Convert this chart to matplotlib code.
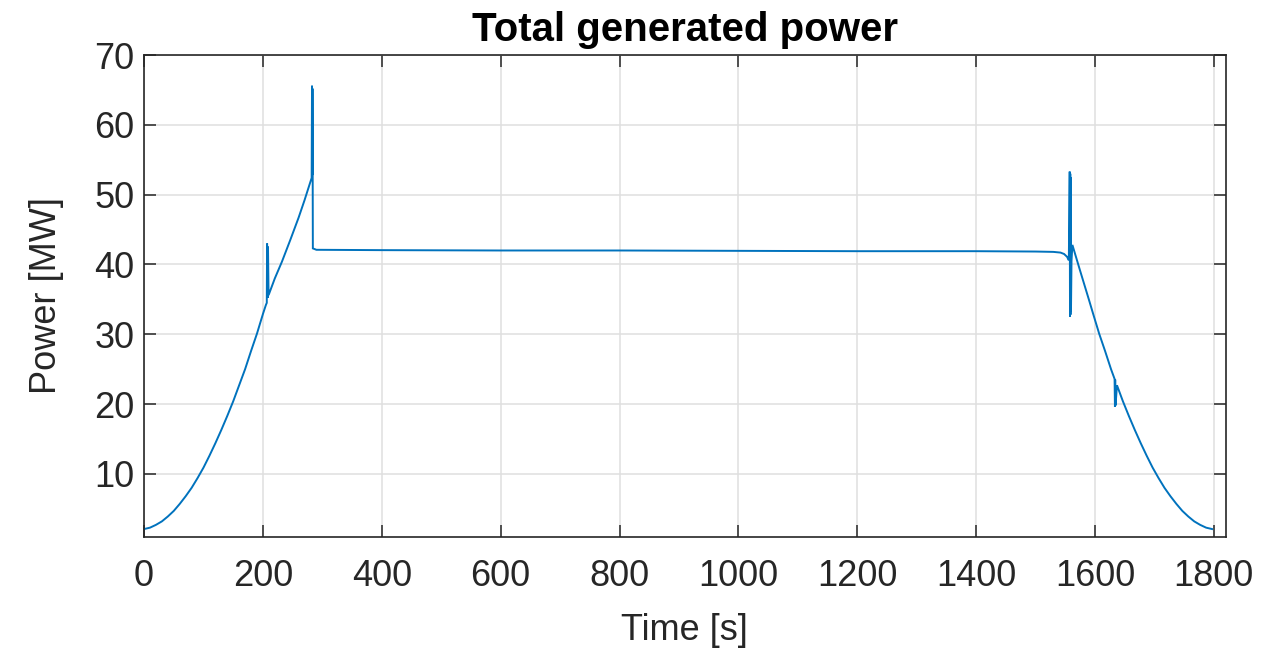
import matplotlib
matplotlib.use("Agg")
import matplotlib.pyplot as plt

# ---- data (time in s, power in MW) ----
time_s = [0, 10, 20, 30, 40, 50, 60, 70, 80, 90, 100, 110, 120, 130, 140, 150,
          160, 170, 180, 190, 200, 205,
          206.5, 207, 207.4, 207.8, 208.2, 208.6, 209.5,
          220, 232, 246, 260, 270, 282,
          282.6, 283, 283.4, 284, 290, 400, 600, 800, 1000, 1200, 1400,
          1500, 1530, 1542, 1548, 1553, 1556,
          1557.5, 1558, 1558.4, 1558.8, 1559.2, 1559.6, 1560.5, 1562,
          1575, 1590, 1597, 1607, 1617, 1627, 1633,
          1633.6, 1634, 1634.6, 1637, 1647, 1657, 1667, 1677, 1687, 1697, 1707,
          1717, 1727, 1737, 1747, 1757, 1767, 1777, 1787, 1797]
power_mw = [2.1, 2.3, 2.7, 3.2, 3.9, 4.7, 5.7, 6.8, 8.0, 9.4, 10.9, 12.6, 14.4, 16.3,
            18.3, 20.4, 22.7, 25.0, 27.6, 30.1, 32.9, 34.2,
            34.5, 43.0, 35.4, 42.6, 35.2, 42.0, 35.6,
            38.0, 40.4, 43.5, 46.7, 49.2, 52.4,
            65.6, 52.8, 65.2, 42.3, 42.1, 42.05, 42.0, 42.0, 41.95, 41.9, 41.9,
            41.85, 41.8, 41.7, 41.5, 41.1, 40.6,
            53.3, 32.5, 53.0, 32.8, 52.5, 33.2, 40.5, 42.8,
            39.1, 34.9, 32.9, 30.1, 27.6, 25.0, 23.6,
            19.6, 23.5, 19.8, 22.7, 20.4, 18.3, 16.3, 14.4, 12.6, 10.9, 9.4,
            8.0, 6.8, 5.7, 4.7, 3.9, 3.2, 2.7, 2.3, 2.1]

x_ticks = [0, 200, 400, 600, 800, 1000, 1200, 1400, 1600, 1800]
y_ticks = [10, 20, 30, 40, 50, 60, 70]

title = "Total generated power"
x_label = "Time [s]"
y_label = "Power [MW]"

plt.rcParams['font.family'] = ['Liberation Sans', 'DejaVu Sans']
dark = '#262626'

fig = plt.figure(figsize=(12.76, 6.66), dpi=100)
ax = fig.add_axes([0.1129, 0.1941, 0.8477, 0.7233])

ax.plot(time_s, power_mw, color='#0072BD', lw=1.4, solid_joinstyle='miter')

ax.set_xlim(0, 1820)
ax.set_ylim(1, 70)
ax.set_xticks(x_ticks)
ax.set_yticks(y_ticks)
ax.grid(True, color='#dfdfdf', lw=1.1)
ax.set_axisbelow(True)

for s in ax.spines.values():
    s.set_color(dark)
    s.set_linewidth(1.2)
ax.tick_params(direction='in', length=8.5, width=1.1, color=dark,
               labelsize=26, labelcolor=dark, top=True, right=True)
ax.tick_params(axis='x', pad=16)
ax.tick_params(axis='y', pad=7)

ax.set_title(title, fontsize=29, fontweight='bold', color='black', pad=10)
ax.set_xlabel(x_label, fontsize=26, color=dark, labelpad=14)
ax.set_ylabel(y_label, fontsize=26, color=dark, labelpad=22)

fig.savefig("out.png", dpi=100)
